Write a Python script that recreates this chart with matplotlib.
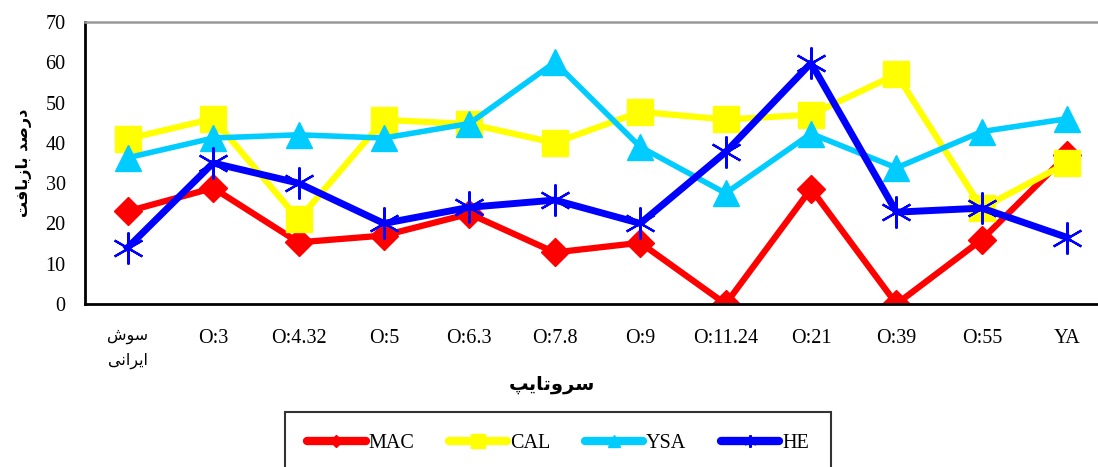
import matplotlib
matplotlib.use("Agg")
import matplotlib.pyplot as plt
from matplotlib.lines import Line2D

# Persian text written in presentation forms (visual order) so it shows joined
iranian_strain = "\uFEB5\uFEEE\uFEB3\n\uFBFD\uFEE7\uFE8D\uFEAE\uFBFE\uFE8D"   # سوش ایرانی
x_title = "\uFB57\uFBFE\uFE8E\uFE97\uFEED\uFEAE\uFEB3"                      # سروتایپ
y_title = "\uFE96\uFED3\uFE8E\uFBFE\uFEAF\uFE8E\uFE91 \uFEAA\uFEBB\uFEAD\uFEA9"  # درصد بازیافت

categories = [iranian_strain, "O:3", "O:4.32", "O:5", "O:6.3", "O:7.8", "O:9",
              "O:11.24", "O:21", "O:39", "O:55", "YA"]

mac = [23, 28.8, 15.3, 17, 22.4, 12.8, 15.2, 0, 28.6, 0, 16, 37]
cal = [41, 46, 21, 45.7, 44.7, 40, 47.7, 45.8, 47, 57, 23.8, 35]
ysa = [36.3, 41.2, 42, 41.2, 44.8, 60, 39, 27.5, 42.3, 33.8, 42.8, 46]
he = [14, 35, 30, 20, 24, 25.8, 20, 37.7, 59.8, 22.8, 23.8, 16.5]

plt.rcParams['font.family'] = ['Liberation Serif', 'DejaVu Sans']

fig = plt.figure(figsize=(10.98, 4.67), dpi=100)
ax = fig.add_axes([85 / 1098, (467 - 304) / 467, 1025 / 1098, 282 / 467])

x = list(range(len(categories)))
ax.plot(x, mac, color='#FF0000', lw=4.5, marker='D', ms=14, label='MAC')
ax.plot(x, cal, color='#FFFF00', lw=4.5, marker='s', ms=19, label='CAL')
ax.plot(x, ysa, color='#00CCFF', lw=4, marker='^', ms=19, label='YSA')
ax.plot(x, he, color='#0000FF', lw=5, marker=(6, 2, 0), ms=23, mew=1.6, label='HE')

ax.set_xlim(-0.5, 11.5)
ax.set_ylim(0, 70)
ax.set_yticks(range(0, 71, 10))
ax.set_xticks(x)
ax.set_xticklabels(categories, linespacing=1.75, va='top')
ax.tick_params(axis='both', length=0, labelsize=14.5)
ax.tick_params(axis='x', pad=18)
ax.tick_params(axis='y', pad=14)
first = ax.get_xticklabels()[0]
first.set_fontfamily(['DejaVu Sans'])
first.set_fontsize(11.5)

ax.spines['top'].set_color('#999999')
ax.spines['top'].set_linewidth(1.8)
ax.spines['left'].set_linewidth(2)
ax.spines['bottom'].set_linewidth(2)
ax.spines['right'].set_visible(False)

ax.set_xlabel(x_title, fontsize=14, fontweight='bold', family=['DejaVu Sans'])
ax.xaxis.set_label_coords((552 - 85) / 1025, (304 - 385) / 282)
ax.set_ylabel(y_title, fontsize=11.5, fontweight='bold', family=['DejaVu Sans'])
ax.yaxis.set_label_coords((24 - 85) / 1025, 0.5)
ax.xaxis.label.set_va('center')
ax.yaxis.label.set_va('center')

handles = [
    Line2D([], [], color='#FF0000', lw=6, solid_capstyle='round', marker='D', ms=6),
    Line2D([], [], color='#FFFF00', lw=6, solid_capstyle='round', marker='s', ms=10),
    Line2D([], [], color='#00CCFF', lw=6, solid_capstyle='round', marker='^', ms=8),
    Line2D([], [], color='#0000FF', lw=6, solid_capstyle='round', marker=(6, 2, 0), ms=9, mew=1.5),
]
leg = fig.legend(handles, ['MAC', 'CAL', 'YSA', 'HE'], loc='upper center',
                 bbox_to_anchor=(558 / 1098, 1 - 412 / 467), ncol=4,
                 fontsize=14.5, frameon=True, fancybox=False, edgecolor='black',
                 handlelength=2.9, handletextpad=0.15, columnspacing=1.7,
                 borderpad=1.1, borderaxespad=0)
leg.get_frame().set_linewidth(1.5)

fig.savefig("out.png", dpi=100)
